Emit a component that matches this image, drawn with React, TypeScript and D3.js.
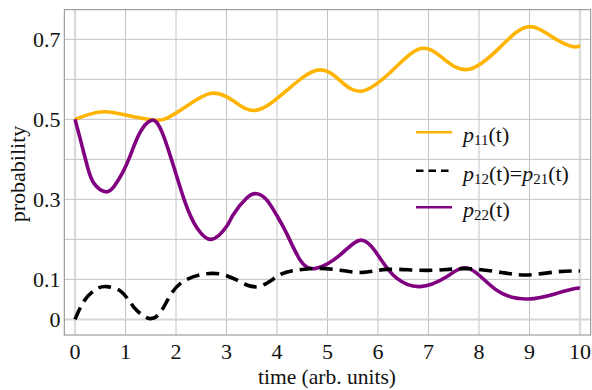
import React from "react";
import * as d3 from "d3";

// Time samples and values for each probability curve
const t11 = [0, 0.3, 0.6, 1.0, 1.5, 1.8, 2.2, 2.7, 3.15, 3.6, 4.2, 4.8, 5.25, 5.7, 6.3, 6.85, 7.3, 7.8, 8.4, 8.95, 9.45, 9.85, 10];
const p11 = [0.5, 0.513, 0.519, 0.511, 0.499, 0.502, 0.532, 0.565, 0.545, 0.523, 0.573, 0.623, 0.597, 0.571, 0.624, 0.677, 0.651, 0.625, 0.678, 0.731, 0.706, 0.682, 0.685];

const t12 = [0, 0.18, 0.4, 0.62, 0.92, 1.16, 1.49, 1.76, 2.09, 2.72, 3.21, 3.63, 4.05, 4.39, 4.78, 5.25, 5.7, 6.17, 6.76, 7.3, 7.82, 8.48, 8.98, 9.54, 10];
const p12 = [0, 0.046, 0.074, 0.082, 0.069, 0.0315, 0.002, 0.0315, 0.09, 0.115, 0.098, 0.082, 0.111, 0.123, 0.1275, 0.123, 0.1175, 0.125, 0.123, 0.124, 0.1266, 0.1166, 0.111, 0.119, 0.121];

const t22 = [0, 0.11, 0.245, 0.376, 0.6, 0.77, 0.94, 1.1, 1.27, 1.5, 1.76, 2.16, 2.42, 2.7, 3.0, 3.13, 3.39, 3.6, 3.8, 3.99, 4.19, 4.46, 4.77, 5.25, 5.68, 6.04, 6.37, 6.83, 7.36, 7.81, 8.35, 8.98, 9.54, 9.9, 10];
const p22 = [0.5, 0.448, 0.382, 0.34, 0.319, 0.332, 0.366, 0.411, 0.463, 0.497, 0.456, 0.3, 0.228, 0.2, 0.232, 0.261, 0.302, 0.314, 0.298, 0.261, 0.215, 0.148, 0.1275, 0.161, 0.198, 0.153, 0.103, 0.082, 0.1066, 0.127, 0.073, 0.051, 0.065, 0.077, 0.0775];

const xTicks = [0, 1, 2, 3, 4, 5, 6, 7, 8, 9, 10];
const yTicks = [0, 0.1, 0.3, 0.5, 0.7];
const yGrid = [0, 0.1, 0.2, 0.3, 0.4, 0.5, 0.6, 0.7];

const W = 592;
const H = 390;
const frame = { left: 64.3, right: 590.7, top: 9.7, bottom: 335 };

const GOLD = "#FFB400";
const PURPLE = "#800080";
const SERIF = "Liberation Serif, Times New Roman, serif";

export default function App() {
  const x = d3.scaleLinear().domain([-0.212, 10.212]).range([frame.left, frame.right]);
  const y = d3.scaleLinear().domain([-0.039, 0.774]).range([frame.bottom, frame.top]);

  const makeLine = (ts: number[], ps: number[]) =>
    d3
      .line<number>()
      .x((_, i) => x(ts[i]))
      .y((d) => y(d))
      .curve(d3.curveNatural)(ps) as string;

  const legendRows = [
    { y: 132.3, color: GOLD, dash: undefined as string | undefined, kind: "11" },
    { y: 170.7, color: "#000", dash: "7.5,5", kind: "12" },
    { y: 207.3, color: PURPLE, dash: undefined as string | undefined, kind: "22" },
  ];

  const txt = { fontFamily: SERIF };

  return (
    <svg
      width={W}
      height={H}
      style={{ position: "absolute", left: 0, top: 0, background: "#fff" }}
    >
      <rect x={0} y={0} width={W} height={H} fill="#fff" />
      {/* grid */}
      <g>
        {xTicks.map((t) => (
          <line
            key={"gx" + t}
            x1={x(t)}
            x2={x(t)}
            y1={frame.top}
            y2={frame.bottom}
            stroke={t === 0 || t === 10 ? "#dcdcdc" : "#c4c4c4"}
            strokeWidth={t === 0 || t === 10 ? 2.5 : 1}
          />
        ))}
        {yGrid.map((v) => (
          <line
            key={"gy" + v}
            x1={frame.left}
            x2={frame.right}
            y1={y(v)}
            y2={y(v)}
            stroke={v === 0 ? "#d6d6d6" : "#c4c4c4"}
            strokeWidth={v === 0 ? 2 : 1}
          />
        ))}
      </g>
      {/* frame */}
      <rect
        x={frame.left}
        y={frame.top}
        width={frame.right - frame.left}
        height={frame.bottom - frame.top}
        fill="none"
        stroke="#8a8a8a"
        strokeWidth={1}
      />
      {/* curves */}
      <path d={makeLine(t11, p11)} fill="none" stroke={GOLD} strokeWidth={3.6} />
      <path d={makeLine(t22, p22)} fill="none" stroke={PURPLE} strokeWidth={3.6} />
      <path
        d={makeLine(t12, p12)}
        fill="none"
        stroke="#000"
        strokeWidth={3.6}
        strokeDasharray="13,7"
      />
      {/* tick labels */}
      {xTicks.map((t) => (
        <text key={"tx" + t} x={x(t)} y={358.5} textAnchor="middle" fontSize={22} fill="#111" style={txt}>
          {t}
        </text>
      ))}
      {yTicks.map((v) => (
        <text key={"ty" + v} x={60.5} y={y(v) + 7.5} textAnchor="end" fontSize={22} fill="#111" style={txt}>
          {v === 0 ? "0" : v.toFixed(1)}
        </text>
      ))}
      {/* axis titles */}
      <text x={327} y={384} textAnchor="middle" fontSize={21.5} fill="#111" style={txt}>
        time (arb. units)
      </text>
      <text
        transform={`translate(25,174) rotate(-90)`}
        textAnchor="middle"
        fontSize={22}
        fill="#111"
        style={txt}
      >
        probability
      </text>
      {/* legend */}
      {legendRows.map((r) => (
        <g key={r.kind}>
          <line
            x1={416}
            x2={452}
            y1={r.y}
            y2={r.y}
            stroke={r.color}
            strokeWidth={2.5}
            strokeDasharray={r.dash}
          />
          <text x={463} y={r.y + 10} fontSize={22} fill="#111" style={txt}>
            {r.kind === "12" ? (
              <>
                <tspan fontStyle="italic">p</tspan>
                <tspan fontSize={15} dy={3}>12</tspan>
                <tspan dy={-3}>(t)=</tspan>
                <tspan fontStyle="italic">p</tspan>
                <tspan fontSize={15} dy={3}>21</tspan>
                <tspan dy={-3}>(t)</tspan>
              </>
            ) : (
              <>
                <tspan fontStyle="italic">p</tspan>
                <tspan fontSize={15} dy={3}>{r.kind}</tspan>
                <tspan dy={-3}>(t)</tspan>
              </>
            )}
          </text>
        </g>
      ))}
    </svg>
  );
}
